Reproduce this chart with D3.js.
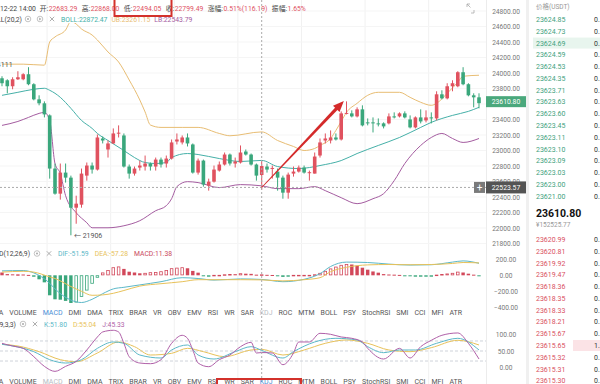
<!DOCTYPE html>
<html>
  <head>
    <meta charset="UTF-8" />
    <title>BTC/USDT K线</title>
    <style>
      body { margin: 0; background: #fff; overflow: hidden; }
      svg { display: block; font-family: Roboto, "Noto Sans CJK SC", sans-serif; }
    </style>
  </head>
  <body>
    <script src="https://cdn.jsdelivr.net/npm/d3@7/dist/d3.min.js"></script>
    <script>
      // one value per bar
      var opens = [23932,23906,23829,23919,23919,23984,23855,23660,23609,23453,
        22767,22443,22715,22650,22262,22301,22676,22806,22754,23155,
        23013,23091,23220,23194,22793,22702,22780,22793,22832,22793,
        22883,22832,22896,23116,23104,23168,23078,22715,22870,22547,
        22598,22741,22819,22948,22832,22845,22987,22948,22819,22683.29,
        22793,22767,22728,22650,22456,22702,22728,22780,22715,22702,
        22935,23129,23129,23168,23142,23479,23479,23440,23531,23363,
        23363,23350,23350,23350,23440,23440,23479,23401,23298,23427,
        23388,23427,23414,23725,23673,23829,23829,24010,23855,23712,23686];
      var highs = [23958,23919,23945,24023,23997,24075,23868,23712,23634,23466,
        22832,22832,22832,22676,22417,22767,22845,22845,23207,23181,
        23129,23285,23324,23220,22819,22793,22870,22935,22845,22909,
        22909,22935,23142,23220,23194,23220,23091,22896,22883,22637,
        22806,22858,22974,22961,22909,23065,23013,22961,22832,22868.00,
        22832,22806,22767,22676,22715,22793,22806,22806,22741,22974,
        23155,23220,23259,23220,23505,23634,23518,23557,23583,23414,
        23427,23414,23363,23479,23492,23492,23505,23453,23440,23531,
        23518,23492,23764,23777,23868,23906,24023,24075,23868,23738,23738];
      var lows = [23829,23738,23790,23910,23906,23842,23647,23583,23427,22637,
        22430,22366,22586,21906,22055,22262,22611,22702,22741,23091,
        22909,23085,23168,22780,22637,22676,22741,22741,22741,22741,
        22780,22780,22883,23078,23078,23052,22702,22689,22534,22482,
        22586,22728,22806,22806,22780,22832,22935,22806,22611,22494.05,
        22715,22637,22482,22378,22378,22663,22715,22702,22611,22702,
        22909,23091,23091,23129,23129,23466,23427,23427,23311,23324,
        23233,23311,23285,23337,23414,23427,23414,23285,23285,23350,
        23363,23350,23388,23660,23660,23764,23816,23842,23699,23557,23544];
      var closes = [23868,23829,23919,23945,23984,23855,23660,23609,23466,22767,
        22443,22715,22650,22262,22314,22702,22806,22754,23168,23129,
        23091,23220,23230,22793,22702,22767,22806,22832,22793,22883,
        22819,22896,23104,23142,23168,23091,22715,22870,22560,22598,
        22754,22819,22948,22832,22858,22974,22948,22819,22676,22799.49,
        22754,22775,22650,22456,22689,22728,22780,22715,22720,22922,
        23104,23155,23168,23142,23479,23485,23440,23531,23324,23356,
        23350,23345,23311,23440,23436,23479,23427,23298,23427,23375,
        23427,23422,23725,23673,23829,23868,24010,23855,23712,23686,23610.80];

      // BOLL(20,2) read at [bar index, price]
      var bollUpper = [[0,24114],[4,24114],[8,24101],[9,24400],[10,24465],[12,24555],[13,24665],
        [14,24632],[15,24568],[17,24490],[18,24426],[20,24271],[22,24142],[24,23910],[26,23652],
        [27,23497],[28,23329],[30,23298],[34,23298],[37,23298],[41,23220],[43,23190],[49,23240],
        [52,23129],[55,23052],[57,23000],[59,23026],[60,23065],[62,23155],[63,23259],[64,23375],
        [65,23492],[67,23609],[69,23712],[71,23751],[75,23751],[77,23686],[79,23622],[81,23583],
        [82,23609],[84,23738],[86,23881],[87,23958],[90,23971]];
      var bollMid = [[0,23712],[3,23751],[6,23790],[8,23803],[9,23777],[11,23686],[13,23544],
        [15,23388],[17,23285],[18,23220],[20,23129],[23,23000],[25,22909],[27,22845],[29,22832],
        [31,22845],[32,22909],[35,22961],[37,22948],[41,22896],[45,22858],[49,22872],[52,22793],
        [56,22767],[58,22780],[60,22806],[64,22870],[67,22961],[71,23065],[75,23168],[79,23298],
        [81,23363],[85,23453],[88,23505],[90,23557]];
      var bollLower = [[0,23324],[3,23375],[5,23427],[7,23479],[8,23492],[9,23388],[10,22832],
        [11,22702],[12,22417],[14,22197],[16,22068],[17,22003],[20,22003],[23,22029],[26,22094],
        [29,22223],[31,22288],[32,22378],[33,22534],[35,22598],[37,22586],[41,22521],[45,22560],
        [49,22544],[52,22508],[56,22508],[59,22534],[61,22482],[64,22391],[67,22314],[70,22378],
        [72,22443],[74,22611],[76,22832],[79,23065],[81,23168],[83,23220],[85,23155],[87,23104],
        [90,23155]];

      // MACD(12,26,9)
      var macdHist = [35,15,12,12,10,5,-18,-50,-88,-250,
        -300,-305,-320,-346,-340,-271,-190,-105,-30,35,
        65,100,110,80,45,35,25,30,38,40,
        50,65,88,95,100,88,55,33,-8,-5,
        5,5,12,15,14,25,20,18,8,11.38,
        6,4,-5,-20,-10,5,5,5,5,12,
        30,55,85,108,130,140,135,120,95,70,
        48,33,15,10,8,5,-10,-12,-12,-12,
        -10,-8,8,15,22,30,45,35,20,8,-10];
      var difPts = [[0,55],[4,60],[6,30],[9,-100],[10,-170],[13,-310],[15,-340],[17,-300],[19,-230],
        [21,-170],[23,-150],[26,-120],[30,-80],[34,-30],[37,-40],[40,-60],[45,-45],[49,-51.59],
        [53,-80],[57,-50],[60,20],[62,110],[65,165],[69,160],[73,140],[77,128],[81,132],[85,165],
        [87,180],[90,150]];
      var deaPts = [[0,40],[4,50],[6,40],[9,-20],[10,-40],[13,-140],[15,-200],[17,-250],[19,-245],
        [21,-225],[23,-190],[26,-135],[30,-105],[34,-80],[37,-55],[40,-55],[45,-55],[49,-57.28],
        [53,-70],[57,-55],[60,-30],[62,45],[65,100],[69,130],[73,135],[77,132],[81,135],[85,148],
        [87,160],[90,155]];

      // KDJ(9,3,3)
      var kPts = [[0,70],[3,62],[6,48],[9,24],[12,14],[15,24],[18,58],[21,77],[23,73],[26,38],[30,29],
        [32,53],[35,68],[37,38],[40,26],[44,48],[47,63],[49,51.8],[53,29],[55,48],[59,77],[63,88],
        [67,83],[69,63],[72,45],[75,53],[78,53],[82,73],[86,88],[90,53]];
      var dPts = [[0,70],[3,65],[7,48],[11,24],[14,18],[18,44],[22,77],[25,63],[28,38],[32,43],[35,58],
        [38,48],[42,33],[47,53],[49,55.04],[53,38],[57,53],[61,73],[65,83],[69,73],[73,53],[77,48],
        [81,60],[86,82],[90,68]];
      var jPts = [[0,73],[2,65],[3,62],[4,58],[6,33],[8,4],[10,-11],[12,4],[14,19],[16,53],[18,92],
        [19,107],[21,112],[22,107],[23,73],[24,33],[26,14],[28,12],[30,24],[32,73],[34,97],[35,88],
        [36,53],[37,14],[39,3],[41,24],[43,38],[45,63],[47,76],[48,44],[49,45.33],[51,44],[53,9],
        [55,44],[56,77],[58,77],[60,103],[62,100],[64,92],[66,88],[68,77],[69,58],[72,26],[75,58],
        [77,29],[79,63],[81,82],[83,97],[86,104],[88,73],[90,26]];

      var priceTicks = [24800,24600,24400,24200,24000,23800,23600,23400,23200,23000,22800,22600,22400,22200,22000,21800];
      var macdTicks = [200,0,-200,-400];
      var kdjTicks = [100,50,0];
      var kdjLevels = [80,50,20];

      var tabs = ["MA","VOLUME","MACD","DMI","DMA","TRIX","BRAR","VR","OBV","EMV","RSI","WR","SAR",
        "KDJ","ROC","MTM","BOLL","PSY","StochRSI","SMI","CCI","MFI","ATR"];

      var headLabels = ["开:","高:","低:","收:","涨幅:","振幅:"];
      var headValues = ["22683.29","22868.00","22494.05","22799.49","0.51%(116.19)","1.65%"];

      var askPrices = [23624.85,23624.73,23624.69,23624.59,23624.53,23624.35,23623.71,23623.63,
        23623.60,23623.45,23623.11,23623.10,23623.09,23623.03,23623.00,23621.00];
      var askQty = ["0.","0.","0.","0.","0.","0.","0.","0.","0.","0.","0.","0.","0.","0.","0.","0."];
      var bidPrices = [23620.99,23620.81,23619.92,23619.47,23618.36,23618.35,23618.33,23618.21,
        23615.67,23615.65,23615.32,23615.31,23615.30];
      var bidQty = ["0.","0.","0.","0.","0.","0.","0.","0.","0.","1.","0.","0.","0."];

      var lastPrice = 23610.80, lastCny = "¥152525.77";
      var crossIdx = 49, crossPrice = 22523.57;
      var highMark = 24111, lowMark = 21906, lowIdx = 13;

      var RED = "#e0525f", GREEN = "#3aa77c";
      var C_UP = "#e8bd73", C_MID = "#45b0a8", C_LOW = "#a45ca0";
      var C_DIF = "#5cb8c8", C_DEA = "#e8c25a", C_J = "#b05fa8";

      var svg = d3.select("body").append("svg").attr("width", 600).attr("height", 384);
      var defs = svg.append("defs");
      function clip(id, y0, y1) {
        defs.append("clipPath").attr("id", id).append("rect")
          .attr("x", 0).attr("y", y0).attr("width", 486).attr("height", y1 - y0);
      }
      clip("cMain", 23, 247);
      clip("cMacd", 258, 307);
      clip("cKdj", 328, 376);

      var x = d3.scaleLinear().domain([0, 90]).range([2, 479]);
      var yMain = d3.scaleLinear().domain([21800, 24800]).range([243.5, 11]);
      var yMacd = d3.scaleLinear().domain([-400, 200]).range([307.3, 259.3]);
      var yKdj = d3.scaleLinear().domain([0, 100]).range([367.7, 334.3]);

      // grid
      var grid = svg.append("g");
      d3.range(8.5, 90, 12).forEach(function (g) {
        grid.append("line").attr("x1", x(g)).attr("x2", x(g)).attr("y1", 0).attr("y2", 384)
          .attr("stroke", "#f1f1f1");
      });
      priceTicks.forEach(function (p) {
        grid.append("line").attr("x1", 0).attr("x2", 486).attr("y1", yMain(p)).attr("y2", yMain(p))
          .attr("stroke", "#f5f5f5");
      });
      svg.append("line").attr("x1", 486.5).attr("x2", 486.5).attr("y1", 0).attr("y2", 384).attr("stroke", "#ececec");
      svg.append("rect").attr("x", 526).attr("y", 0).attr("width", 3).attr("height", 384).attr("fill", "#f0f0f0");

      function curve(scale) {
        return d3.line().x(function (d) { return x(d[0]); }).y(function (d) { return scale(d[1]); })
          .curve(d3.curveMonotoneX);
      }

      // main panel
      var gMain = svg.append("g").attr("clip-path", "url(#cMain)");
      [[bollUpper, C_UP], [bollMid, C_MID], [bollLower, C_LOW]].forEach(function (s) {
        gMain.append("path").datum(s[0]).attr("d", curve(yMain)).attr("fill", "none")
          .attr("stroke", s[1]).attr("stroke-width", 1);
      });

      var bars = opens.map(function (o, i) {
        return { i: i, o: o, h: highs[i], l: lows[i], c: closes[i] };
      });
      var cw = 3.6;
      var cg = gMain.selectAll("g.candle").data(bars).enter().append("g").attr("class", "candle");
      cg.append("line")
        .attr("x1", function (d) { return x(d.i); }).attr("x2", function (d) { return x(d.i); })
        .attr("y1", function (d) { return yMain(d.h); }).attr("y2", function (d) { return yMain(d.l); })
        .attr("stroke", function (d) { return d.c >= d.o ? RED : GREEN; }).attr("stroke-width", 1);
      cg.append("rect")
        .attr("x", function (d) { return x(d.i) - cw / 2; })
        .attr("y", function (d) { return yMain(Math.max(d.o, d.c)); })
        .attr("width", cw)
        .attr("height", function (d) { return Math.max(1, Math.abs(yMain(d.o) - yMain(d.c))); })
        .attr("fill", function (d) { return d.c >= d.o ? RED : GREEN; });

      gMain.append("text").attr("x", x(2)).attr("y", yMain(highMark) + 2.5).attr("text-anchor", "end")
        .attr("font-size", 7).attr("fill", "#555").text(highMark);
      gMain.append("text").attr("x", x(lowIdx) + 3).attr("y", yMain(lowMark) + 2.5)
        .attr("font-size", 7).attr("fill", "#555").text("← " + lowMark);

      // MACD panel
      var gMacd = svg.append("g").attr("clip-path", "url(#cMacd)");
      var bw = 3.4;
      gMacd.selectAll("rect").data(macdHist).enter().append("rect")
        .each(function (v, i) {
          var prev = i > 0 ? macdHist[i - 1] : v;
          var solid = i === 0 || v < prev;
          var col = v >= 0 ? "#d2485a" : GREEN;
          var y0 = yMacd(Math.max(v, 0)), h = Math.max(1, Math.abs(yMacd(v) - yMacd(0)));
          var r = d3.select(this);
          if (solid) {
            r.attr("x", x(i) - bw / 2).attr("y", y0).attr("width", bw).attr("height", h).attr("fill", col);
          } else {
            r.attr("x", x(i) - bw / 2 + 0.4).attr("y", y0 + 0.4).attr("width", bw - 0.8)
              .attr("height", Math.max(0.6, h - 0.8)).attr("fill", "#fff")
              .attr("stroke", col).attr("stroke-width", 0.8);
          }
        });
      [[difPts, C_DIF], [deaPts, C_DEA]].forEach(function (s) {
        gMacd.append("path").datum(s[0]).attr("d", curve(yMacd)).attr("fill", "none")
          .attr("stroke", s[1]).attr("stroke-width", 1);
      });

      // KDJ panel
      var gKdj = svg.append("g").attr("clip-path", "url(#cKdj)");
      kdjLevels.forEach(function (l) {
        gKdj.append("line").attr("x1", 0).attr("x2", 486).attr("y1", yKdj(l)).attr("y2", yKdj(l))
          .attr("stroke", "#cfd3da").attr("stroke-dasharray", "3,2");
      });
      [[dPts, C_DEA], [kPts, C_DIF], [jPts, C_J]].forEach(function (s) {
        gKdj.append("path").datum(s[0]).attr("d", curve(yKdj)).attr("fill", "none")
          .attr("stroke", s[1]).attr("stroke-width", 1);
      });

      // right axes; a tick hidden under the last-price tag is left out
      function rightAxis(scale, ticks) {
        var g = svg.append("g").attr("transform", "translate(506,0)")
          .call(d3.axisRight(scale).tickValues(ticks).tickFormat(d3.format(".2f")).tickSize(0).tickPadding(0));
        g.attr("font-family", "Roboto, sans-serif").attr("font-size", 6.6);
        g.select(".domain").remove();
        g.selectAll("text").attr("text-anchor", "middle").attr("x", 0).attr("fill", "#777");
        return g;
      }
      var mainAxis = rightAxis(yMain, priceTicks);
      mainAxis.selectAll(".tick").filter(function (d) { return Math.abs(yMain(d) - yMain(lastPrice)) < 6; }).remove();
      rightAxis(yMacd, macdTicks);
      rightAxis(yKdj, kdjTicks);

      // crosshair
      var cx = x(crossIdx), cy = yMain(crossPrice);
      svg.append("line").attr("x1", cx).attr("x2", cx).attr("y1", 0).attr("y2", 384)
        .attr("stroke", "#aaa").attr("stroke-dasharray", "2,2");
      svg.append("line").attr("x1", 0).attr("x2", 486).attr("y1", cy).attr("y2", cy)
        .attr("stroke", "#aaa").attr("stroke-dasharray", "2,2");
      svg.append("rect").attr("x", 474).attr("y", cy - 5.5).attr("width", 11).attr("height", 11).attr("fill", "#7a7a7a");
      svg.append("text").attr("x", 479.5).attr("y", cy + 3.2).attr("text-anchor", "middle")
        .attr("fill", "#fff").attr("font-size", 10).text("+");
      svg.append("rect").attr("x", 486).attr("y", cy - 6).attr("width", 40).attr("height", 12).attr("fill", "#545454");
      svg.append("text").attr("x", 506).attr("y", cy + 2.4).attr("text-anchor", "middle")
        .attr("fill", "#fff").attr("font-size", 6.8).text(crossPrice.toFixed(2));

      // last price tag
      var ly = yMain(lastPrice) - 1.5;
      svg.append("rect").attr("x", 486).attr("y", ly - 5.5).attr("width", 40).attr("height", 11).attr("fill", "#4aa87c");
      svg.append("text").attr("x", 506).attr("y", ly + 2.4).attr("text-anchor", "middle")
        .attr("fill", "#fff").attr("font-size", 6.8).text(lastPrice.toFixed(2));

      // red annotation arrow
      var ax0 = cx, ay0 = cy, ax1 = x(64.5), ay1 = yMain(23640);
      var ang = Math.atan2(ay1 - ay0, ax1 - ax0), len = Math.hypot(ax1 - ax0, ay1 - ay0);
      var arrow = svg.append("g").attr("transform", "translate(" + ax0 + "," + ay0 + ") rotate(" + (ang * 180 / Math.PI) + ")");
      arrow.append("path").attr("d", "M0,-0.4 L" + (len - 9) + ",-1.7 L" + (len - 9) + ",1.7 L0,0.4Z").attr("fill", "#d42a2a");
      arrow.append("path").attr("d", "M" + len + ",0 L" + (len - 11) + ",-4.5 L" + (len - 11) + ",4.5Z").attr("fill", "#d42a2a");

      // text rows
      function row(items, x0, y) {
        var px = x0;
        items.forEach(function (it) {
          if (it.icon) {
            var g = svg.append("g").attr("transform", "translate(" + (px + 3) + "," + (y - 2.5) + ")");
            if (it.icon === "x") {
              g.append("path").attr("d", "M-2.2,-2.2L2.2,2.2M-2.2,2.2L2.2,-2.2").attr("stroke", "#999").attr("stroke-width", 0.8);
            } else {
              g.append("circle").attr("r", 2.8).attr("fill", "none").attr("stroke", "#aaa").attr("stroke-width", 0.7);
              if (it.icon === "eye") g.append("circle").attr("r", 1).attr("fill", "#aaa");
              else g.append("path").attr("d", "M-0.8,-1.4L1.4,0L-0.8,1.4Z").attr("fill", "#aaa");
            }
            px += 12;
            return;
          }
          var t = svg.append("text").attr("x", px).attr("y", y).attr("font-size", it.size || 6.8)
            .attr("fill", it.color).text(it.text);
          if (it.anchor) t.attr("text-anchor", "end");
          px = it.anchor ? px + (it.gap || 0) : px + t.node().getComputedTextLength() + (it.gap == null ? 4 : it.gap);
        });
      }

      var line1 = [{ text: "12-22 14:00", color: "#444", gap: 4 }];
      headLabels.forEach(function (l, i) {
        line1.push({ text: l, color: "#444", gap: 0.5 });
        line1.push({ text: headValues[i], color: RED, gap: 4.5 });
      });
      row(line1, 0, 10.5);
      row([{ text: "BOLL(20,2)", color: "#444", anchor: true, gap: 3 }, { icon: "eye" }, { icon: "play" }, { icon: "x" },
        { text: "BOLL:22872.47", color: C_MID }, { text: "UB:23261.15", color: C_UP }, { text: "LB:22543.79", color: C_LOW }], 22, 21.5);
      row([{ text: "MACD(12,26,9)", color: "#444", anchor: true, gap: 4 }, { icon: "eye" }, { icon: "x" },
        { text: "DIF:-51.59", color: C_DIF, gap: 6 }, { text: "DEA:-57.28", color: C_DEA, gap: 6 }, { text: "MACD:11.38", color: "#c9485c" }], 30, 256);
      row([{ text: "KDJ(9,3,3)", color: "#444", anchor: true, gap: 4 }, { icon: "eye" }, { icon: "x" },
        { text: "K:51.80", color: C_DIF, gap: 6 }, { text: "D:55.04", color: C_DEA, gap: 6 }, { text: "J:45.33", color: C_J }], 16, 326.5);

      // indicator tabs
      function tabRow(y, active, muted) {
        var g = svg.append("g").attr("font-size", 7);
        var ts = tabs.map(function (t) {
          return g.append("text").attr("y", y).text(t)
            .attr("fill", t === active ? "#4a8fd6" : t === muted ? "#b8bcc4" : "#555");
        });
        var widths = ts.map(function (t) { return t.node().getComputedTextLength(); });
        var start = -7.5, end = 462;
        var gap = (end - start - d3.sum(widths)) / (tabs.length - 1);
        var px = start;
        ts.forEach(function (t, i) { t.attr("x", px); px += widths[i] + gap; });
      }
      tabRow(314.5, "MACD", "KDJ");
      tabRow(384, "KDJ", "MACD");

      // expand icon
      svg.append("path").attr("d", "M467,7V4H470M474,10V13H471M467,4L470.5,7.5").attr("fill", "none")
        .attr("stroke", "#aaa").attr("stroke-width", 0.8);

      // order book
      var ob = svg.append("g").attr("font-size", 7);
      ob.append("text").attr("x", 536).attr("y", 9).attr("fill", "#999").attr("font-size", 6.5).text("价格(USDT)");
      var rowH = 11.78;
      ob.append("rect").attr("x", 533).attr("y", 19.5 + 2 * rowH - 5.5).attr("width", 67).attr("height", 11).attr("fill", "#e8f5ee");
      ob.append("rect").attr("x", 573).attr("y", 239.5 + 9 * rowH - 5.5).attr("width", 27).attr("height", 11).attr("fill", "#fbe3e6");
      askPrices.forEach(function (p, i) {
        var y = 19.5 + i * rowH;
        ob.append("text").attr("x", 536).attr("y", y + 2.5).attr("fill", "#3fa27e").text(p.toFixed(2));
        ob.append("text").attr("x", 594).attr("y", y + 2.5).attr("fill", "#333").text(askQty[i]);
      });
      bidPrices.forEach(function (p, i) {
        var y = 239.5 + i * rowH;
        ob.append("text").attr("x", 536).attr("y", y + 2.5).attr("fill", "#d9505f").text(p.toFixed(2));
        ob.append("text").attr("x", 594).attr("y", y + 2.5).attr("fill", "#333").text(bidQty[i]);
      });
      ob.append("text").attr("x", 536).attr("y", 216.5).attr("font-size", 10.5).attr("font-weight", 700)
        .attr("fill", "#111").text(lastPrice.toFixed(2));
      ob.append("text").attr("x", 536).attr("y", 226.5).attr("font-size", 6.5).attr("fill", "#999").text(lastCny);

      // red boxes drawn on the screenshot
      svg.append("rect").attr("x", 114.5).attr("y", -5).attr("width", 57).attr("height", 21)
        .attr("fill", "none").attr("stroke", "#d3312b").attr("stroke-width", 2);
      svg.append("rect").attr("x", 217).attr("y", 379).attr("width", 84).attr("height", 10)
        .attr("fill", "none").attr("stroke", "#d3312b").attr("stroke-width", 2);
    </script>
  </body>
</html>
